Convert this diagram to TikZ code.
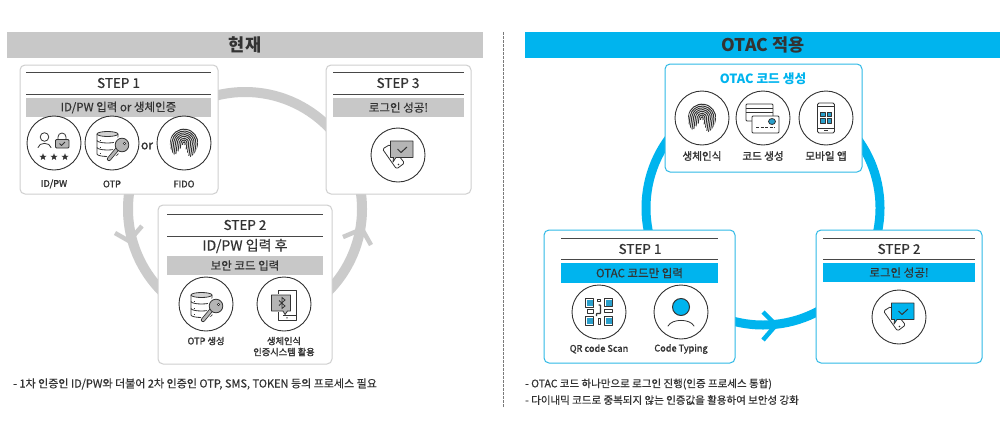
\documentclass[tikz,border=0pt]{standalone}
\usepackage{fontspec}
\setmainfont{Noto Sans CJK KR}
\newfontfamily\medf[FakeBold=0.5]{Noto Sans CJK KR}
\newfontfamily\labf[FakeBold=1.6]{Noto Sans CJK KR}
\usetikzlibrary{shapes.geometric}
\definecolor{hgray}{HTML}{C8C8C8}
\definecolor{boxgray}{HTML}{CFCFCF}
\definecolor{ringgray}{HTML}{CBCBCB}
\definecolor{iconfillgray}{HTML}{B5B5B5}
\definecolor{cyanb}{HTML}{00B4EE}
\definecolor{boxcyan}{HTML}{2FB9E6}
\definecolor{icoblue}{HTML}{2A9FCB}
\definecolor{ink}{HTML}{333333}
\newcommand\bartextfont{\medf\fontsize{11.5}{11.5}\selectfont}
\tikzset{
  x=1pt,y=-1pt,
  bar/.style={inner sep=0pt,outer sep=0pt,text=ink},
  stepcard/.style={draw=boxgray,line width=1pt,fill=white,rounded corners=5pt,inner sep=0pt,outer sep=0pt},
  bluecard/.style={draw=boxcyan,line width=1pt,fill=white,rounded corners=5pt,inner sep=0pt,outer sep=0pt},
  icircle/.style={circle,draw=ink,line width=0.9pt,fill=white,minimum size=54pt,inner sep=0pt,outer sep=0pt},
  rule/.style={draw=ink!90,line width=1pt},
  steptitle/.style={font=\medf\fontsize{13.5}{13.5}\selectfont,text=ink,inner sep=0pt},
  lab/.style={font=\labf\fontsize{9.2}{11}\selectfont,text=ink,inner sep=0pt,align=center},
  lablarge/.style={font=\labf\fontsize{10.6}{10.6}\selectfont,text=ink,inner sep=0pt,align=center},
  note/.style={font=\medf\fontsize{10.5}{10.5}\selectfont,text=ink,inner sep=0pt,anchor=west},
  head/.style={font=\fontsize{17.5}{17.5}\selectfont\bfseries,text=ink,inner sep=0pt},
  ringnode/.style={circle,minimum size=234pt,inner sep=0pt,outer sep=0pt,line width=#1},
  ic/.style={draw=ink,line width=0.8pt,line join=round},
  starmark/.style={star,star points=5,star point ratio=2.4,fill=ink,minimum size=7.5pt,inner sep=0pt,outer sep=0pt},
}
% named box from corners
\newcommand\bx[7][]{%
  \pgfmathsetmacro\bxw{#5-#3}\pgfmathsetmacro\bxh{#6-#4}%
  \pgfmathsetmacro\bxcx{(#3+#5)/2}\pgfmathsetmacro\bxcy{(#4+#6)/2}%
  \node[#1,minimum width=\bxw pt,minimum height=\bxh pt] (#2) at (\bxcx,\bxcy) {#7};}
% icons: local y-up coordinates, centred on a circle
\newcommand\icFinger[2]{\begin{scope}[shift={(#1,#2)},x=1pt,y=1pt,rotate=-8]
  \clip (0,0) ellipse [x radius=14pt,y radius=16pt];
  \foreach \r/\e in {1.2/-2,3/-6,4.8/-9,6.6/-12,8.4/-16,10.2/-16,12/-16,13.8/-16}{
    \draw[ink,line width=1pt] (-\r,\e) -- (-\r,0) arc[start angle=180,end angle=0,radius=\r pt] -- (\r,\e);}
  \end{scope}}
\newcommand\icDB[2]{\begin{scope}[shift={(#1,#2)},x=1pt,y=1pt]
  \draw[ic,fill=white] (-15,9) -- (-15,-11) arc[start angle=180,end angle=360,x radius=10.5pt,y radius=2.5pt] -- (6,9);
  \draw[ic,fill=iconfillgray!60] (-4.5,9) ellipse [x radius=10.5pt,y radius=2.5pt];
  \draw[ic] (-15,2.5) arc[start angle=180,end angle=360,x radius=10.5pt,y radius=2.5pt];
  \draw[ic] (-15,-4.5) arc[start angle=180,end angle=360,x radius=10.5pt,y radius=2.5pt];
  \foreach \yy in {3,-4,-10}{\draw[ic] (-12.5,\yy) -- (-11,\yy);}
  \draw[white,line width=6pt,line cap=round] (8,-3) -- (-3,-16);
  \fill[white] (10,-2) circle (8.5pt);
  \draw[ink,line width=4.2pt,line cap=round] (7,-4) -- (-3,-16);
  \draw[iconfillgray,line width=2.6pt,line cap=round] (7,-4) -- (-3,-16);
  \draw[ic,fill=iconfillgray] (10,-2) circle (6.8pt);
  \draw[ic,fill=white,line width=0.6pt] (12.5,-0.5) circle (1.3pt);
  \end{scope}}
\newcommand\icIdPw[2]{\begin{scope}[shift={(#1,#2)},x=1pt,y=1pt]
  \draw[ic] (-9.5,6) circle (4.3pt);
  \draw[ic,line cap=round] (-16,-4.5) .. controls (-15,1) and (-4,1) .. (-3,-4.5);
  \draw[ic] (4,3.5) -- (4,6) arc[start angle=180,end angle=0,radius=4pt] -- (12,3.5);
  \draw[ic,fill=iconfillgray,rounded corners=1pt] (1.5,3.5) rectangle (15,-5);
  \draw[ic] (5.5,-0.5) -- (7.5,-2.5) -- (11,1);
  \node[starmark] (sa) at (-11,-14) {};
  \node[starmark] (sb) at (0,-14) {};
  \node[starmark] (sc) at (11,-14) {};
  \end{scope}}
\newcommand\icChat[3]{\begin{scope}[shift={(#1,#2)},x=1pt,y=1pt]
  \draw[ic,fill=white,rounded corners=1.5pt] (-15.5,6) -- (-8,10.5) -- (6.5,-8) -- (-1.5,-14) -- cycle;
  \fill[ink] (0.5,-9.5) circle (0.9pt);
  \draw[ic,fill=#3] (-7.5,14) -- (15,14) -- (15,-2.5) -- (-2,-2.5) -- (-5,-7) -- (-4.5,-2.5) -- (-7.5,-2.5) -- cycle;
  \draw[ic,line width=1pt] (-0.5,6) -- (3,2.5) -- (9,8);
  \end{scope}}
\newcommand\icBT[2]{\begin{scope}[shift={(#1,#2)},x=1pt,y=1pt]
  \draw[ic] (-6,10) -- (-6,14) -- (12,14) -- (12,-16) -- (-6,-16) -- (-6,-8);
  \draw[ic] (-1,-11.5) -- (12,-11.5);
  \fill[ink] (3,-13.8) circle (0.8pt);
  \draw[ic,fill=iconfillgray] (-12.5,9) -- (6.5,9) -- (6.5,-7) -- (3.5,-7) -- (1,-10.5) -- (-1,-7) -- (-12.5,-7) -- cycle;
  \draw[ink,line width=0.8pt] (-5,-1.5) -- (1,4) -- (-2,6.5) -- (-2,-4.5) -- (1,-2) -- (-5,3.5);
  \end{scope}}
\newcommand\icCards[2]{\begin{scope}[shift={(#1,#2)},x=1pt,y=1pt]
  \draw[ic,fill=white,rounded corners=1pt] (-17,14) rectangle (10,-3);
  \draw[ic] (-17,10) -- (10,10); \draw[ic] (-17,6) -- (10,6);
  \draw[ic,fill=white,rounded corners=1pt] (-11,2) rectangle (16,-15);
  \draw[ic,fill=icoblue] (9,-3.5) ellipse [x radius=3.5pt,y radius=3pt];
  \draw[ic,dash pattern=on 3pt off 1.5pt] (-7,-9.5) -- (12,-9.5);
  \end{scope}}
\newcommand\icMobile[2]{\begin{scope}[shift={(#1,#2)},x=1pt,y=1pt]
  \draw[ic,fill=white,rounded corners=1.5pt] (-8.5,15) rectangle (8.5,-15);
  \draw[ic] (-8.5,11.5) -- (8.5,11.5); \draw[ic] (-8.5,-10) -- (8.5,-10);
  \draw[ink,line width=1pt] (-2,-12.5) -- (2,-12.5);
  \foreach \qx in {-3.3,3.3}{\foreach \qy in {-2.8,3.8}{
    \draw[ic,fill=icoblue,line width=0.6pt] ({\qx-2.4},{\qy-2.4}) rectangle ({\qx+2.4},{\qy+2.4});}}
  \end{scope}}
\newcommand\icQR[2]{\begin{scope}[shift={(#1,#2)},x=1pt,y=1pt]
  \foreach \qx/\qy in {-9.5/9,9.5/9.5,-9.5/-9,9.5/-9}{
    \draw[ic,fill=white,line width=1pt] ({\qx-4.2},{\qy-4.2}) rectangle ({\qx+4.2},{\qy+4.2});
    \draw[icoblue,fill=icoblue] ({\qx-2.4},{\qy-2.4}) rectangle ({\qx+2.4},{\qy+2.4});}
  \draw[ic,line width=1.2pt,rounded corners=0.5pt] (-0.5,7) -- (1.5,7) -- (1.5,-1.5) -- (-2.5,-1.5) -- (-2.5,-4);
  \draw[ic,line width=1pt] (-1.5,13) rectangle (1.5,10.5);
  \draw[ic,line width=1pt] (-1,-6.5) rectangle (1,-12);
  \draw[ic,line width=1pt] (-12,2.5) rectangle (-6,-1.5);
  \draw[ic,line width=1pt] (5,2.5) rectangle (13,0);
  \end{scope}}
\newcommand\icPerson[2]{\begin{scope}[shift={(#1,#2)},x=1pt,y=1pt]
  \draw[ic,fill=cyanb,line width=1pt] (0,5) circle (8.5pt);
  \draw[ic,line cap=round] (-13,-14) .. controls (-9,-6.5) and (9,-6.5) .. (13,-14);
  \end{scope}}
\begin{document}
\begin{tikzpicture}
\useasboundingbox (0,0) rectangle (1000,442);
\fill[white] (0,0) rectangle (1000,442);
% headers
\bx[bar,fill=hgray]{hL}{7}{32}{483}{58}{}
\node[head] (hLt) at (245,45) {현재};
\bx[bar,fill=cyanb]{hR}{525}{32}{1000}{58}{}
\node[head] (hRt) at (763,45) {OTAC 적용};
\coordinate (dTop) at (503,32); \coordinate (dBot) at (503,408);
\draw[ink!65,line width=0.8pt,dash pattern=on 2.5pt off 1.5pt] (dTop) -- (dBot);
% rings
\node[ringnode=10pt,draw=ringgray] (ringL) at (245,209) {};
\node[ringnode=9pt,draw=cyanb] (ringR) at (763,208) {};
% chevrons
\coordinate (la) at (115,233); \coordinate (lv) at (129,241); \coordinate (lb) at (142,226);
\draw[ringgray,line width=4.5pt] (la) -- (lv) -- (lb);
\coordinate (ra) at (343,237); \coordinate (rv) at (362,229); \coordinate (rb) at (371,245);
\draw[ringgray,line width=4.5pt] (ra) -- (rv) -- (rb);
\coordinate (ba) at (763,312); \coordinate (bv) at (776,325); \coordinate (bb) at (763,340);
\draw[cyanb,line width=4.5pt] (ba) -- (bv) -- (bb);
% --- left STEP 1
\bx[stepcard]{c1}{20}{65}{218}{194}{}
\draw[rule] (26,72) -- (211,72); \draw[rule] (26,94) -- (211,94);
\node[steptitle] (c1t) at (118.5,83) {STEP 1};
\bx[bar,fill=hgray]{c1b}{26}{98}{211}{117}{\bartextfont ID/PW 입력 or 생체인증}
\node[icircle] (c1a) at (54,143) {}; \node[icircle] (c1d) at (112,143) {}; \node[icircle] (c1f) at (184,143) {};
\icIdPw{54}{143}\icDB{112}{143}\icFinger{184}{143}
\node[lablarge,font=\labf\fontsize{12}{12}\selectfont] (c1or) at (147,146) {or};
\node[lab] (c1la) at (54,184) {ID/PW}; \node[lab] (c1ld) at (112,184) {OTP}; \node[lab] (c1lf) at (184,184) {FIDO};
% --- left STEP 3
\bx[stepcard]{c3}{326}{65}{471}{194}{}
\draw[rule] (333,72) -- (464,72); \draw[rule] (333,94) -- (464,94);
\node[steptitle] (c3t) at (398,83) {STEP 3};
\bx[bar,fill=hgray]{c3b}{333}{98}{464}{117}{\bartextfont 로그인 성공!}
\node[icircle] (c3a) at (398,155) {};
\icChat{398}{155}{iconfillgray}
% --- left STEP 2
\bx[stepcard]{c2}{158}{205}{332}{364}{}
\draw[rule] (167,214) -- (323,214); \draw[rule] (167,236) -- (323,236);
\node[steptitle] (c2t) at (245,225) {STEP 2};
\node[steptitle,font=\medf\fontsize{14}{14}\selectfont] (c2s) at (245,246) {ID/PW 입력 후};
\bx[bar,fill=hgray]{c2b}{167}{256}{323}{275}{\bartextfont 보안 코드 입력}
\node[icircle] (c2a) at (206,304) {}; \node[icircle] (c2c) at (284,304) {};
\icDB{206}{304}\icBT{284}{304}
\node[lab] (c2la) at (206,341) {OTP 생성};
\node[lab] (c2lc) at (284,346.5) {생체인식\\인증시스템 활용};
\node[note,font=\medf\fontsize{11}{11}\selectfont] (nL) at (13,384) {- 1차 인증인 ID/PW와 더불어 2차 인증인 OTP, SMS, TOKEN 등의 프로세스 필요};
% --- right top
\bx[bluecard]{o0}{665}{64}{862}{172}{}
\node[steptitle,text=cyanb,font=\fontsize{12.7}{12.7}\selectfont\bfseries] (o0t) at (763,79) {OTAC 코드 생성};
\node[icircle] (o0a) at (702,118) {}; \node[icircle] (o0b) at (763,118) {}; \node[icircle] (o0c) at (826,118) {};
\icFinger{702}{118}\icCards{763}{118}\icMobile{826}{118}
\node[lablarge] (o0la) at (702,156) {생체인식};
\node[lablarge] (o0lb) at (763,156) {코드 생성};
\node[lablarge] (o0lc) at (826,156) {모바일 앱};
% --- right STEP 1
\bx[bluecard]{o1}{544}{230}{735}{363}{}
\draw[rule] (561,238) -- (718,238); \draw[rule] (561,259) -- (718,259);
\node[steptitle] (o1t) at (640,249) {STEP 1};
\bx[bar,fill=cyanb]{o1b}{561}{263}{718}{283}{\bartextfont OTAC 코드만 입력}
\node[icircle] (o1a) at (599,312) {}; \node[icircle] (o1c) at (681,312) {};
\icQR{599}{312}\icPerson{681}{312}
\node[lab] (o1la) at (599,349) {QR code Scan}; \node[lab] (o1lc) at (681,349) {Code Typing};
% --- right STEP 2
\bx[bluecard]{o2}{816}{230}{982}{363}{}
\draw[rule] (823,238) -- (975,238); \draw[rule] (823,259) -- (975,259);
\node[steptitle] (o2t) at (899,249) {STEP 2};
\bx[bar,fill=cyanb]{o2b}{823}{263}{975}{282}{\bartextfont 로그인 성공!}
\node[icircle] (o2a) at (899,317) {};
\icChat{899}{317}{cyanb}
\node[note] (nR1) at (525,384) {- OTAC 코드 하나만으로 로그인 진행(인증 프로세스 통합)};
\node[note] (nR2) at (525,400) {- 다이내믹 코드로 중복되지 않는 인증값을 활용하여 보안성 강화};
\end{tikzpicture}
\end{document}
